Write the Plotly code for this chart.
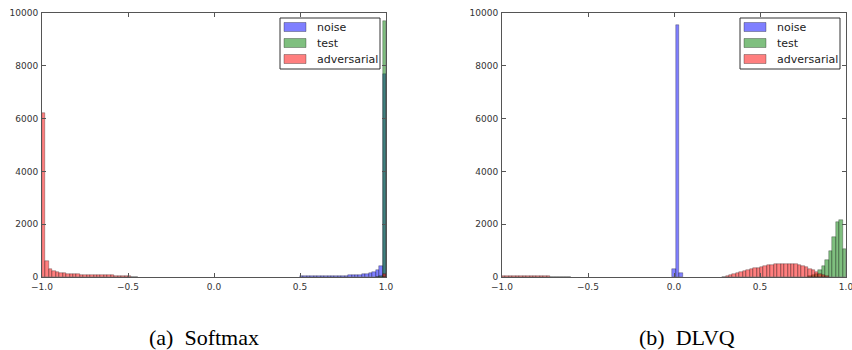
import numpy as np
import plotly.graph_objects as go

W, H = 852, 350
BIN = 0.02

# ---------------- data (histogram bin counts) ----------------
# (a) Softmax
sm_adv_start = -1.0
sm_adv_counts = [6200, 600, 300, 240, 200, 170, 150, 130, 115, 105, 95, 90, 85, 80,
                 75, 70, 68, 65, 62, 60, 58, 55, 50, 45, 35, 25, 15, 8]
sm_adv_end_start = 0.98
sm_adv_end_counts = [110]
sm_noise_start = 0.50
sm_noise_counts = [20, 20, 22, 25, 25, 28, 30, 32, 35, 38, 40, 45, 50, 55, 60, 70,
                   80, 90, 100, 120, 150, 200, 280, 420, 7700]
sm_test_start = 0.94
sm_test_counts = [10, 40, 9700]

# (b) DLVQ
dl_noise_start = -0.01
dl_noise_counts = [300, 9550, 150]
dl_test_start = 0.78
dl_test_counts = [30, 60, 130, 250, 420, 650, 1000, 1500, 2100, 2150, 1050]
dl_adv_start = -1.0
dl_adv_counts = [20, 40, 45, 50, 50, 45, 45, 40, 40, 35, 30, 30, 25, 20, 15, 10, 8, 5, 3, 2]
dl_adv2_start = 0.28
dl_adv2_counts = [10, 30, 60, 100, 140, 180, 220, 260, 300, 330, 360, 390, 420, 440,
                  470, 490, 500, 510, 500, 500, 500, 490, 460, 420, 370, 310, 250,
                  190, 130, 80, 40]

series_names = ["noise", "test", "adversarial"]
series_colors = ["rgba(0,0,255,0.5)", "rgba(0,128,0,0.5)", "rgba(255,0,0,0.5)"]
x_tickvals = [-1.0, -0.5, 0.0, 0.5, 1.0]
x_ticktext = ["\u22121.0", "\u22120.5", "0.0", "0.5", "1.0"]
y_tickvals = [0, 2000, 4000, 6000, 8000, 10000]
y_ticktext = ["0", "2000", "4000", "6000", "8000", "10000"]
captions = ["(a)\u00a0\u00a0Softmax", "(b)\u00a0\u00a0DLVQ"]


def seg(start, counts):
    centers = [start + BIN * (i + 0.5) for i in range(len(counts))]
    return centers, counts


def join(*segs):
    xs, ys = [], []
    for s, c in segs:
        a, b = seg(s, c)
        xs += a
        ys += b
    return xs, ys


panels = [
    {
        "noise": join((sm_noise_start, sm_noise_counts)),
        "test": join((sm_test_start, sm_test_counts)),
        "adversarial": join((sm_adv_start, sm_adv_counts), (sm_adv_end_start, sm_adv_end_counts)),
    },
    {
        "noise": join((dl_noise_start, dl_noise_counts)),
        "test": join((dl_test_start, dl_test_counts)),
        "adversarial": join((dl_adv_start, dl_adv_counts), (dl_adv2_start, dl_adv2_counts)),
    },
]

# ---------------- layout geometry (pixels) ----------------
ax_left = [42, 502]
ax_right = [386, 846]
ax_top, ax_bot = 13, 277
cap_x = [203.5, 687]
cap_y = 337


def px(x):
    return x / W


def py(y):
    return 1 - y / H


fig = go.Figure()
for p, data in enumerate(panels):
    xa = "x" if p == 0 else "x2"
    ya = "y" if p == 0 else "y2"
    for name, col in zip(series_names, series_colors):
        xs, ys = data[name]
        fig.add_trace(go.Bar(
            x=xs, y=ys, width=BIN, name=name, xaxis=xa, yaxis=ya,
            marker=dict(color=col, line=dict(color="rgba(0,0,0,0.55)", width=0.5)),
            showlegend=False, hoverinfo="x+y+name",
        ))

axis_common = dict(
    showline=True, linecolor="#555", linewidth=1, mirror="ticks",
    ticks="inside", ticklen=4, tickcolor="#555", showgrid=False, zeroline=False,
    automargin=False, ticklabeloverflow="allow",
    tickfont=dict(family="DejaVu Sans", size=9, color="#333"),
)
layout = dict(
    width=W, height=H, margin=dict(l=0, r=0, t=0, b=0, pad=0, autoexpand=False),
    paper_bgcolor="white", plot_bgcolor="white", barmode="overlay", bargap=0,
)
for p in range(2):
    sx = "" if p == 0 else "2"
    layout["xaxis" + sx] = dict(
        domain=[px(ax_left[p]), px(ax_right[p])], range=[-1, 1],
        tickvals=x_tickvals, ticktext=x_ticktext, anchor="y" + sx, ticklabelstandoff=1,
        **axis_common)
    layout["yaxis" + sx] = dict(
        domain=[py(ax_bot), py(ax_top)], range=[0, 10000],
        tickvals=y_tickvals, ticktext=y_ticktext, anchor="x" + sx, ticklabelstandoff=1,
        **axis_common)
fig.update_layout(**layout)

# ---------------- legends (drawn as shapes + text) ----------------
shapes, annots = [], []
for p in range(2):
    bx1 = ax_right[p] - 6
    bx0 = bx1 - 100
    by0, by1 = 18, 69
    shapes.append(dict(type="rect", xref="paper", yref="paper",
                       x0=px(bx0), x1=px(bx1), y0=py(by1), y1=py(by0),
                       fillcolor="white", line=dict(color="#333", width=1), layer="above"))
    for i, (name, col) in enumerate(zip(series_names, series_colors)):
        cy = 27 + 16 * i
        shapes.append(dict(type="rect", xref="paper", yref="paper",
                           x0=px(bx0 + 4), x1=px(bx0 + 26), y0=py(cy + 4.5), y1=py(cy - 4.5),
                           fillcolor=col, line=dict(color="rgba(0,0,0,0.5)", width=0.6),
                           layer="above"))
        annots.append(dict(xref="paper", yref="paper", x=px(bx0 + 35), y=py(cy),
                           xanchor="left", yanchor="middle", showarrow=False, text=name,
                           font=dict(family="DejaVu Sans", size=11, color="#222")))
    annots.append(dict(xref="paper", yref="paper", x=px(cap_x[p]), y=py(cap_y),
                       xanchor="center", yanchor="middle", showarrow=False, text=captions[p],
                       font=dict(family="Liberation Serif", size=22, color="black")))

fig.update_layout(shapes=shapes, annotations=annots)
fig.write_html(
    "out.html",
    config={"displayModeBar": False},
    post_script="document.body.style.margin='0';document.body.style.overflow='hidden';",
)
